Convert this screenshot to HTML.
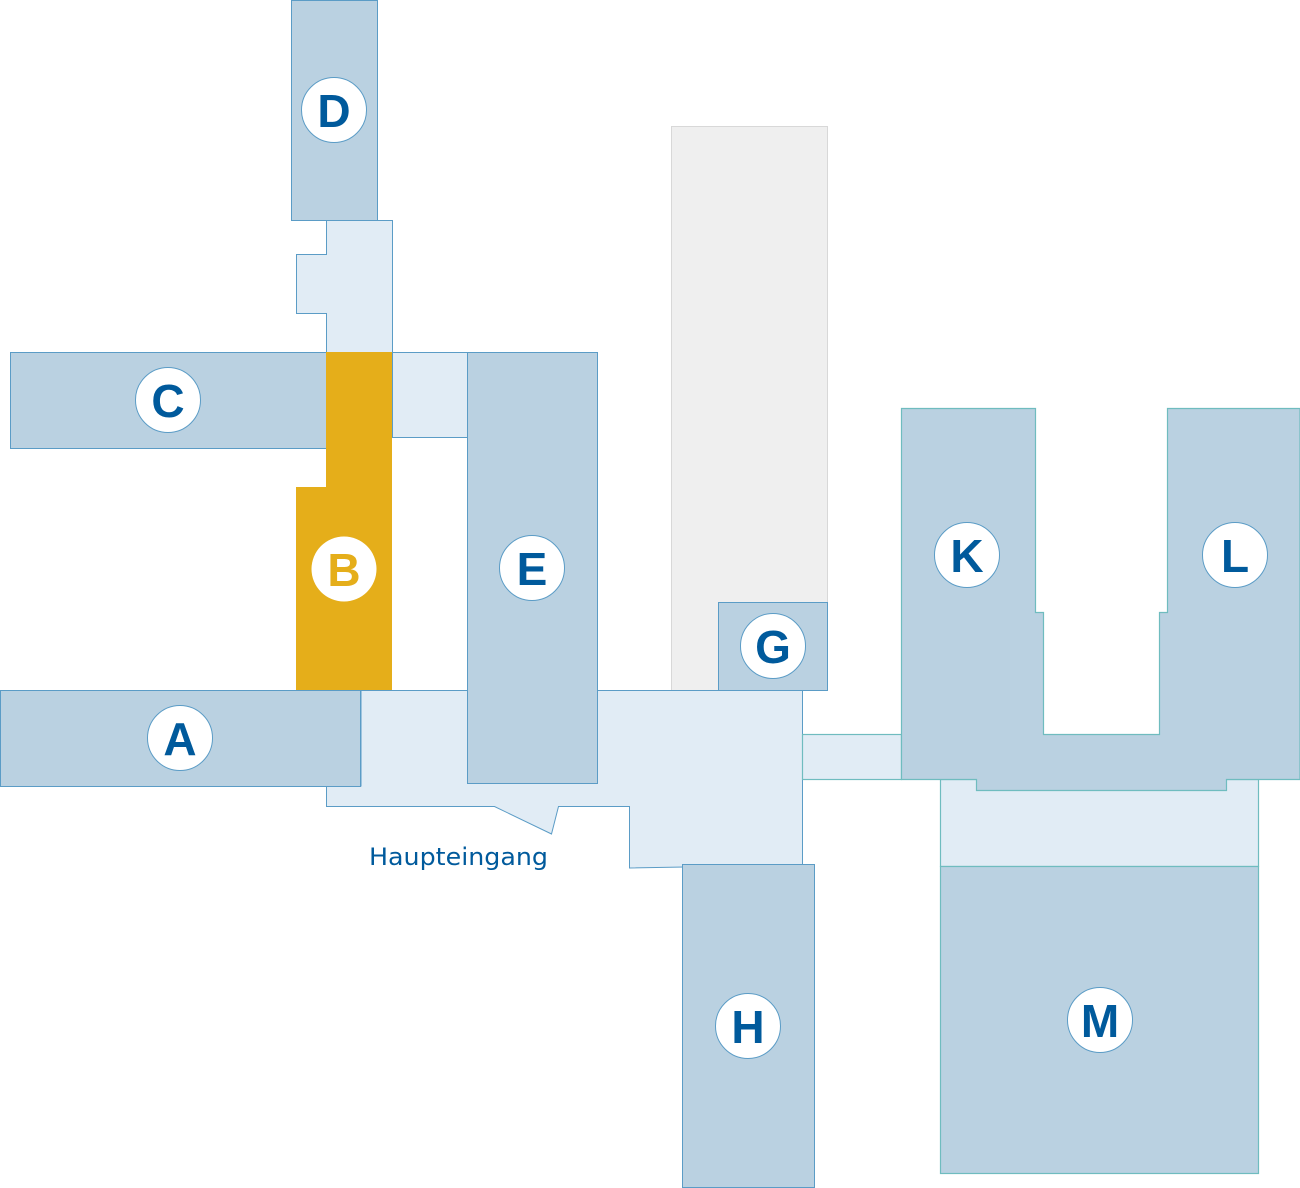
<!DOCTYPE html>
<html><head><meta charset="utf-8"><style>
html,body{margin:0;padding:0;background:#fff;}
svg{display:block;}
.dk{fill:#bad1e1;stroke:#5b9cc6;stroke-width:1;}
.lt{fill:#e1ecf5;stroke:#5b9cc6;stroke-width:1;}
.dkt{fill:#bad1e1;stroke:#6fbcbf;stroke-width:1.2;}
.ltt{fill:#e1ecf5;stroke:#6fbcbf;stroke-width:1.2;}
.c{fill:#fff;stroke:#5b9cc6;stroke-width:1;}
.t{font-family:"Liberation Sans",sans-serif;font-weight:bold;font-size:46px;fill:#005a9c;text-anchor:middle;}
</style></head><body>
<svg width="1300" height="1188" viewBox="0 0 1300 1188">
<rect x="671.5" y="126.5" width="156" height="564" fill="#efefef" stroke="#d8d8d8"/>
<polygon class="lt" points="326.5,220.5 392.5,220.5 392.5,352.5 326.5,352.5 326.5,313.5 296.5,313.5 296.5,254.5 326.5,254.5"/>
<rect class="dk" x="291.5" y="0.5" width="86" height="220"/>
<rect class="lt" x="392.5" y="352.5" width="75" height="85"/>
<polygon class="lt" points="361,690.5 802.5,690.5 802.5,865 629.5,868 629.5,806.5 558.5,806.5 551.5,834 494.5,806.5 326.5,806.5 326.5,786 361,786"/>
<rect class="dk" x="10.5" y="352.5" width="316" height="96"/>
<polygon fill="#e5ae1a" points="326,352 392,352 392,690 296,690 296,487 326,487"/>
<rect class="dk" x="467.5" y="352.5" width="130" height="431"/>
<rect class="dk" x="718.5" y="602.5" width="109" height="88"/>
<rect class="dk" x="0.5" y="690.5" width="360" height="96"/>
<rect class="ltt" x="802.5" y="734.5" width="99" height="45"/>
<rect class="ltt" x="940.5" y="779.5" width="318" height="87"/>
<polygon class="dkt" points="901.5,408.5 1035.5,408.5 1035.5,612.5 1043.5,612.5 1043.5,734.5 1159.5,734.5 1159.5,612.5 1167.5,612.5 1167.5,408.5 1300,408.5 1300,779.5 1226.5,779.5 1226.5,790.5 976.5,790.5 976.5,779.5 901.5,779.5"/>
<rect class="dkt" x="940.5" y="866.5" width="318" height="307"/>
<rect class="dk" x="682.5" y="864.5" width="132" height="323"/>
<circle class="c" cx="334" cy="110" r="32.5"/><text class="t" x="334" y="127">D</text>
<circle class="c" cx="168" cy="400" r="32.5"/><text class="t" x="168" y="417">C</text>
<circle cx="344" cy="569" r="32.5" fill="#fff"/><text class="t" x="344" y="586" style="fill:#e5ae1a">B</text>
<circle class="c" cx="532" cy="568" r="32.5"/><text class="t" x="532" y="585">E</text>
<circle class="c" cx="773" cy="646" r="32.5"/><text class="t" x="773" y="663">G</text>
<circle class="c" cx="180" cy="738" r="32.5"/><text class="t" x="180" y="755">A</text>
<circle class="c" cx="967" cy="555" r="32.5"/><text class="t" x="967" y="572">K</text>
<circle class="c" cx="1235" cy="555" r="32.5"/><text class="t" x="1235" y="572">L</text>
<circle class="c" cx="748" cy="1026" r="32.5"/><text class="t" x="748" y="1043">H</text>
<circle class="c" cx="1100" cy="1020" r="32.5"/><text class="t" x="1100" y="1037">M</text>
<text x="369" y="865" textLength="179" lengthAdjust="spacingAndGlyphs" style="font-family:'DejaVu Sans',sans-serif;font-size:24px;fill:#005a9c;">Haupteingang</text>
</svg>
</body></html>
